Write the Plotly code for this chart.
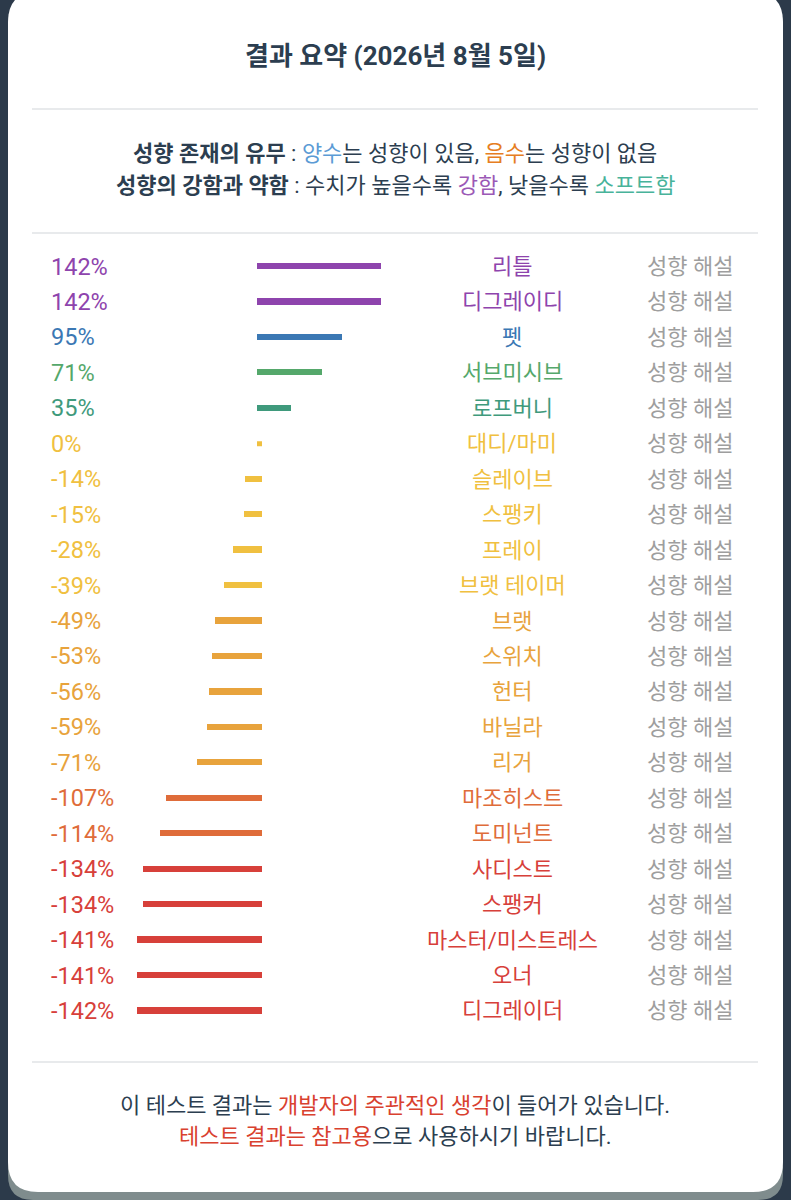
import plotly.graph_objects as go

# === DATA ===
names = ["리틀", "디그레이디", "펫", "서브미시브", "로프버니", "대디/마미", "슬레이브",
         "스팽키", "프레이", "브랫 테이머", "브랫", "스위치", "헌터", "바닐라", "리거",
         "마조히스트", "도미넌트", "사디스트", "스팽커", "마스터/미스트레스", "오너", "디그레이더"]
values = [142, 142, 95, 71, 35, 0, -14, -15, -28, -39, -49, -53, -56, -59, -71,
          -107, -114, -134, -134, -141, -141, -142]
link_label = "성향 해설"
title_text = "결과 요약 (2026년 8월 5일)"

# === PAGE GEOMETRY (pixels) ===
W, H = 791, 1200
ZERO_PX, PX_PER_PCT = 259.5, 0.845
ROW0_PX, ROW_STEP = 266.5, 35.45

DARK = "#2c3a4a"
TEXT = "#2c3e50"
FONT = "Roboto, 'Noto Sans CJK KR', sans-serif"


def X(p):
    return p / W


def Y(p):
    return 1 - p / H


def tone(v):
    # colour band per value range
    if v >= 100:
        return "#8e44ad"
    if v >= 75:
        return "#3b78b4"
    if v >= 50:
        return "#55a86b"
    if v > 0:
        return "#3f9a7c"
    if v >= -40:
        return "#f0c040"
    if v >= -100:
        return "#e8a33c"
    if v >= -120:
        return "#df6c3a"
    return "#d7403a"


def rounded(x0, y0, x1, y1, r):
    return (f"M {X(x0 + r)},{Y(y0)} L {X(x1 - r)},{Y(y0)} "
            f"Q {X(x1)},{Y(y0)} {X(x1)},{Y(y0 + r)} L {X(x1)},{Y(y1 - r)} "
            f"Q {X(x1)},{Y(y1)} {X(x1 - r)},{Y(y1)} L {X(x0 + r)},{Y(y1)} "
            f"Q {X(x0)},{Y(y1)} {X(x0)},{Y(y1 - r)} L {X(x0)},{Y(y0 + r)} "
            f"Q {X(x0)},{Y(y0)} {X(x0 + r)},{Y(y0)} Z")


colors = [tone(v) for v in values]

fig = go.Figure(go.Bar(
    x=values, y=names, orientation="h",
    width=0.035,
    marker=dict(color=colors, line=dict(color=colors, width=5)),
    hoverinfo="skip", showlegend=False,
))

# 0% 는 막대 길이가 없으므로 작은 사각형으로 표시
zero_rows = [(n, v, c) for n, v, c in zip(names, values, colors) if v == 0]
fig.add_trace(go.Scatter(
    x=[r[1] for r in zero_rows], y=[r[0] for r in zero_rows], mode="markers",
    marker=dict(symbol="square", size=5, color=[r[2] for r in zero_rows], line=dict(width=0)),
    hoverinfo="skip", showlegend=False,
))

# === ROW LABELS ===
ann = []
for name, v, c in zip(names, values, colors):
    ann.append(dict(x=X(49), y=name, xref="paper", yref="y", text=f"{v}%",
                    xanchor="left", yanchor="middle", showarrow=False,
                    font=dict(size=23.5, color=c, family=FONT)))
    ann.append(dict(x=X(512), y=name, xref="paper", yref="y", text=name,
                    xanchor="center", yanchor="middle", showarrow=False,
                    font=dict(size=22, color=c, family=FONT)))
    ann.append(dict(x=X(690), y=name, xref="paper", yref="y", text=link_label,
                    xanchor="center", yanchor="middle", showarrow=False,
                    font=dict(size=22, color="#9e9e9e", family=FONT)))

# === HEADER / FOOTER TEXT ===
head = [
    (56, f"<b>{title_text}</b>", 26),
    (154, "<b>성향 존재의 유무</b> : <span style='color:#5b9bd5'>양수</span>는 성향이 있음, "
          "<span style='color:#e67e22'>음수</span>는 성향이 없음", 22),
    (185, "<b>성향의 강함과 약함</b> : 수치가 높을수록 <span style='color:#9b59b6'>강함</span>, "
          "낮을수록 <span style='color:#48b39a'>소프트함</span>", 22),
    (1105, "이 테스트 결과는 <span style='color:#d9412f'>개발자의 주관적인 생각</span>이 들어가 있습니다.", 22),
    (1136, "<span style='color:#d9412f'>테스트 결과는 참고용</span>으로 사용하시기 바랍니다.", 22),
]
for yp, txt, sz in head:
    ann.append(dict(x=X(395), y=Y(yp), xref="paper", yref="paper", text=txt,
                    xanchor="center", yanchor="middle", showarrow=False,
                    font=dict(size=sz, color=TEXT, family=FONT)))

# === CARD SHAPES ===
shapes = [
    dict(type="path", path=rounded(8, 0, 783, 1200, 25), xref="paper", yref="paper",
         fillcolor="#7f8c8d", line=dict(width=0), layer="below"),
    dict(type="path", path=rounded(8, -8, 783, 1192, 30), xref="paper", yref="paper",
         fillcolor="white", line=dict(width=0), layer="below"),
]
for yp in (109, 233, 1062):
    shapes.append(dict(type="line", x0=X(32), x1=X(758), y0=Y(yp), y1=Y(yp),
                       xref="paper", yref="paper", line=dict(color="#e8eaec", width=2),
                       layer="below"))

x_lo = -ZERO_PX / PX_PER_PCT
x_hi = (W - ZERO_PX) / PX_PER_PCT
y_top = -ROW0_PX / ROW_STEP
y_bot = (H - ROW0_PX) / ROW_STEP

fig.update_layout(
    width=W, height=H,
    margin=dict(l=0, r=0, t=0, b=0),
    paper_bgcolor=DARK, plot_bgcolor="rgba(0,0,0,0)",
    xaxis=dict(range=[x_lo, x_hi], visible=False, fixedrange=True),
    yaxis=dict(type="category", range=[y_bot, y_top], visible=False, fixedrange=True),
    annotations=ann, shapes=shapes,
    bargap=0,
)

fig.write_html("out.html", config={"displayModeBar": False},
               post_script="document.body.style.margin='0';document.body.style.overflow='hidden';")
